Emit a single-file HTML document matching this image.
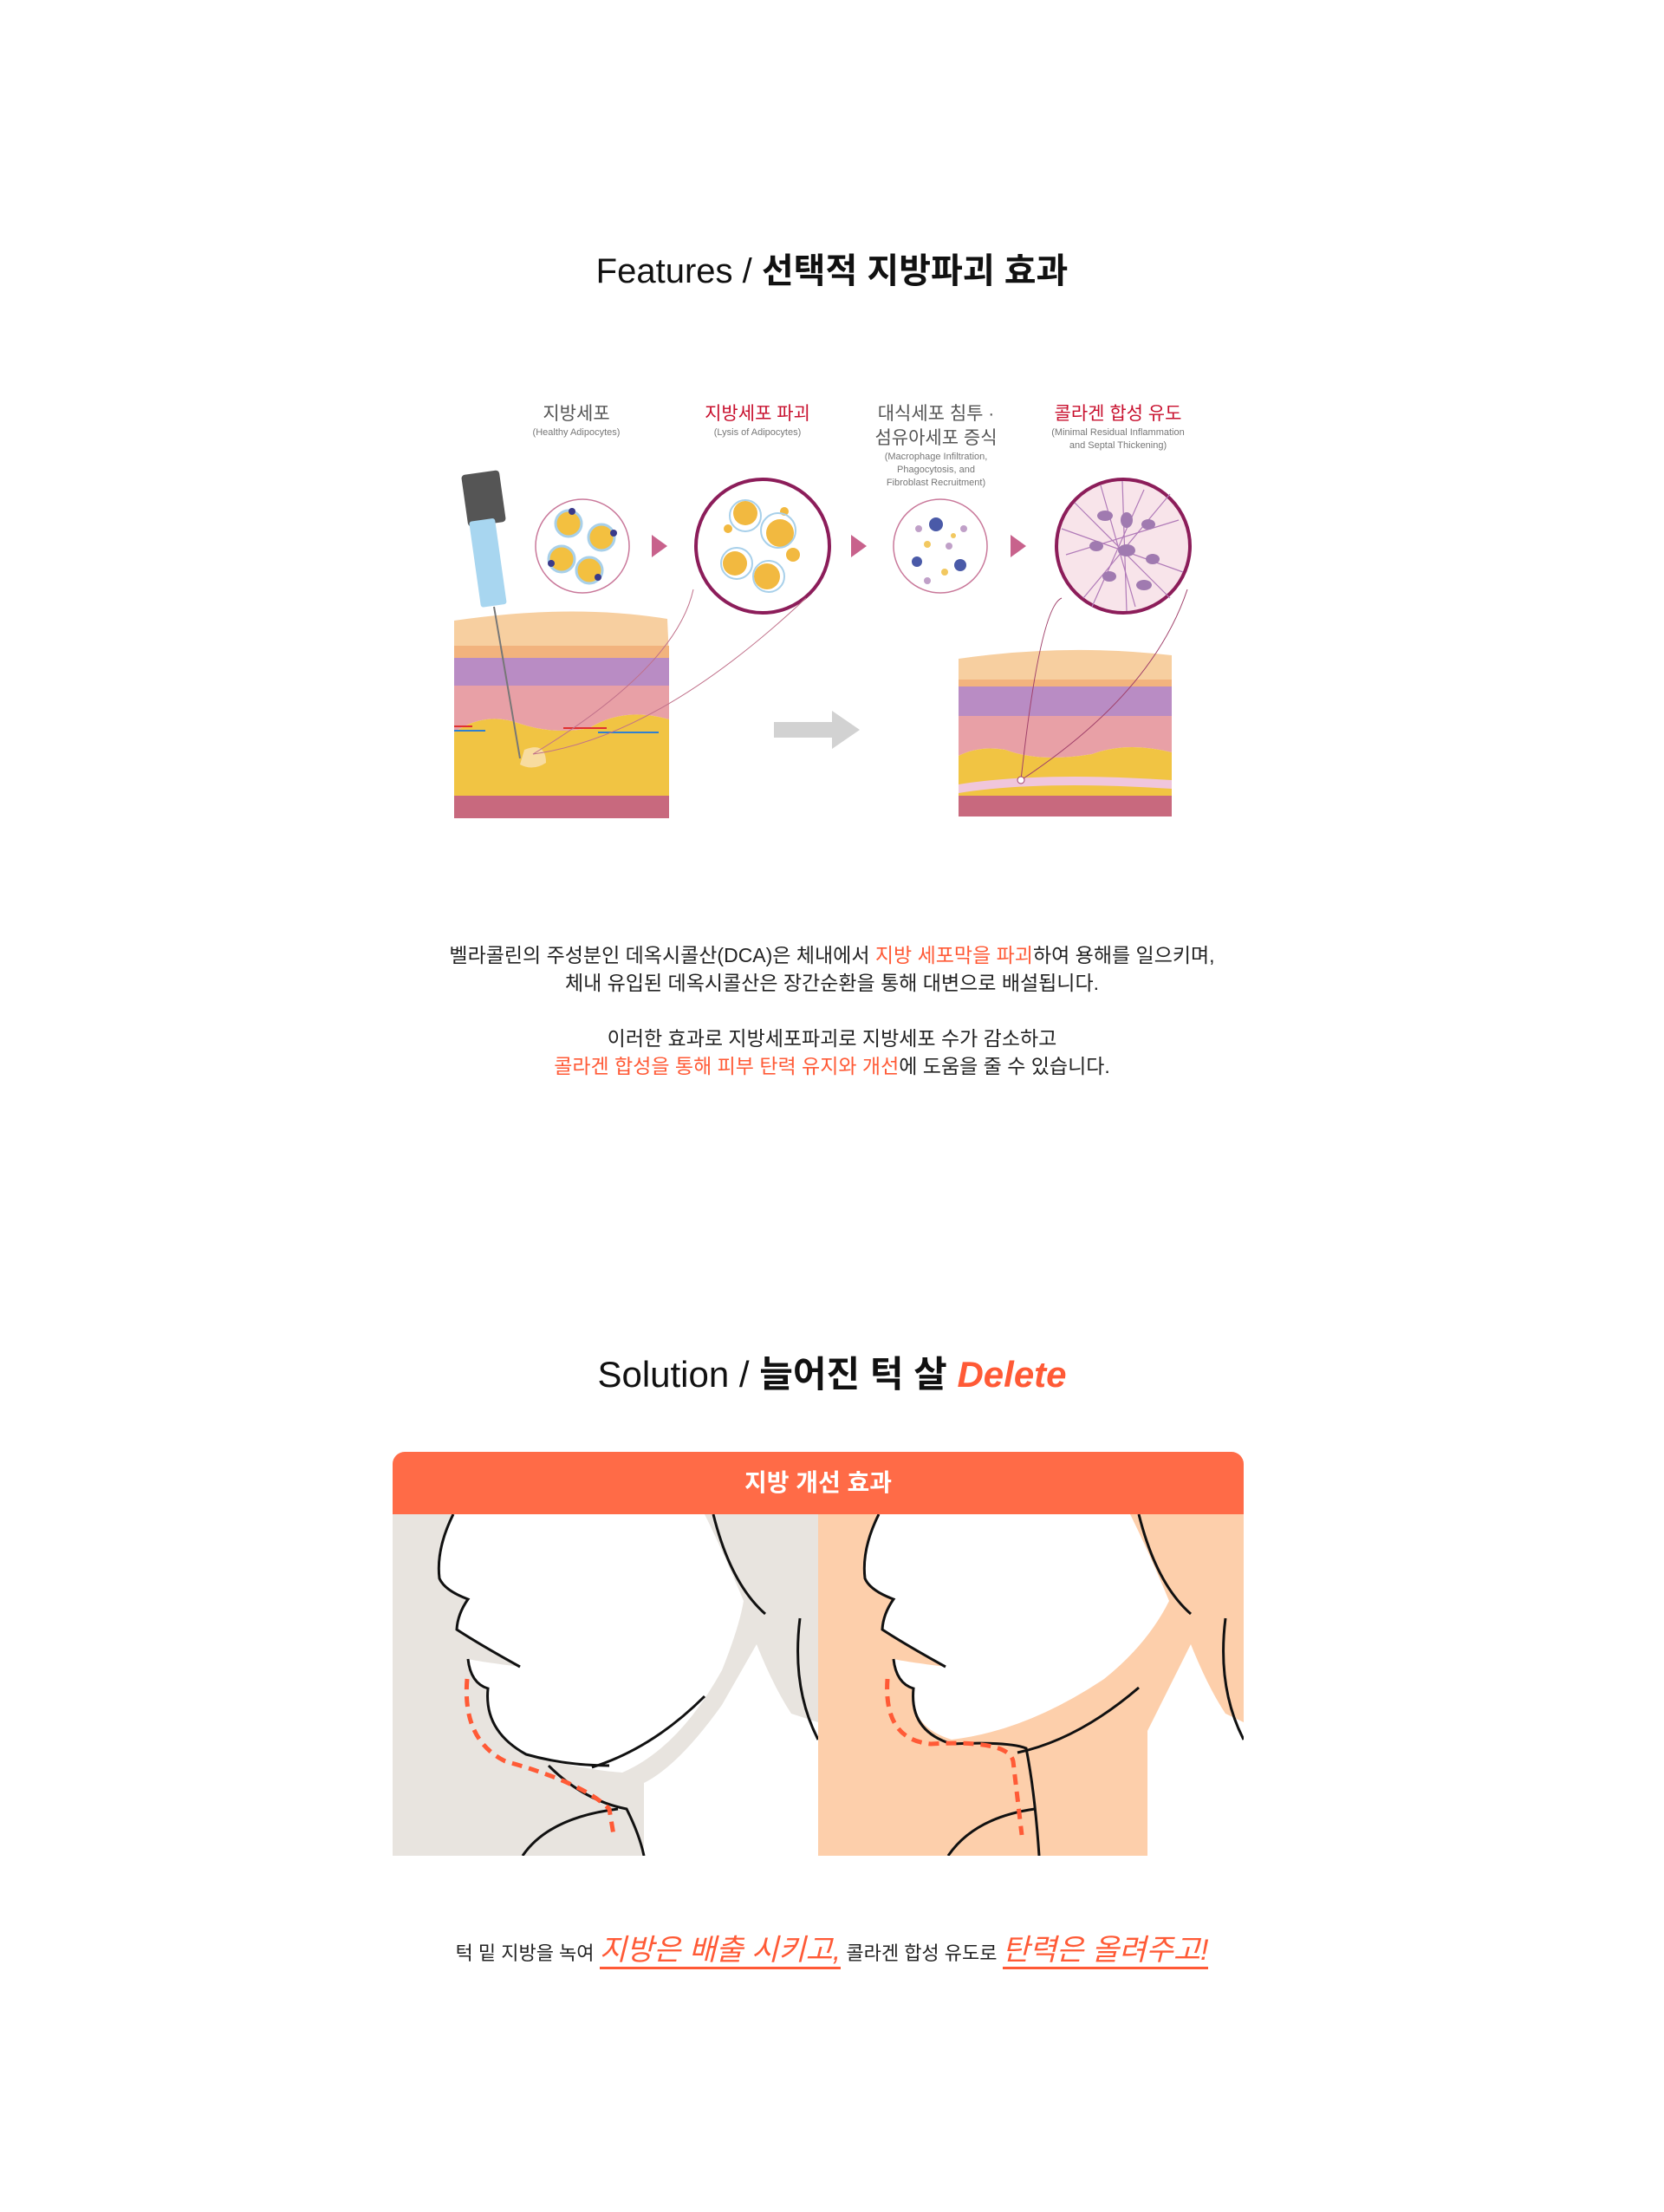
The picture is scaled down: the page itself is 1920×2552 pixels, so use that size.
<!DOCTYPE html>
<html><head><meta charset="utf-8">
<style>
body{margin:0;background:#fff;width:1920px;height:2552px;position:relative;overflow:hidden;font-family:"Liberation Sans","Noto Sans CJK KR",sans-serif;color:#222}
.abs{position:absolute}
.t{position:absolute;left:0;width:1920px;text-align:center}
.lbl{position:absolute;text-align:center;width:240px;font-size:21px;color:#555;line-height:28px}
.lbl small{display:block;font-size:11px;color:#777;line-height:15px}
.or{color:#ff5a36}
.hw{color:#ff5a36;font-size:34px;font-style:italic;border-bottom:3px solid #ff5a36}
</style></head><body>

<div class="t" style="top:280px;font-size:40px;color:#111"><span style="font-weight:300">Features / </span><b>선택적 지방파괴 효과</b></div>

<div class="lbl" style="left:545px;top:464px">지방세포<small>(Healthy Adipocytes)</small></div>
<div class="lbl" style="left:754px;top:464px;color:#c8102e">지방세포 파괴<small>(Lysis of Adipocytes)</small></div>
<div class="lbl" style="left:960px;top:464px">대식세포 침투 ·<br>섬유아세포 증식<small>(Macrophage Infiltration,<br>Phagocytosis, and<br>Fibroblast Recruitment)</small></div>
<div class="lbl" style="left:1170px;top:464px;color:#c8102e">콜라겐 합성 유도<small>(Minimal Residual Inflammation<br>and Septal Thickening)</small></div>

<svg class="abs" style="left:0;top:0" width="1920" height="1000">
<circle cx="672" cy="630" r="54" fill="#fff" stroke="#c9789a" stroke-width="1.5"/>
<g fill="#f3c040" stroke="#a8d0ea" stroke-width="3">
<circle cx="656" cy="604" r="15"/><circle cx="694" cy="620" r="15"/><circle cx="648" cy="645" r="15"/><circle cx="680" cy="658" r="15"/></g>
<g fill="#3a3a8a"><circle cx="660" cy="590" r="4"/><circle cx="708" cy="615" r="4"/><circle cx="636" cy="650" r="4"/><circle cx="690" cy="666" r="4"/></g>
<circle cx="880" cy="630" r="77" fill="#fff" stroke="#8c1d5a" stroke-width="4"/>
<g fill="#f2b940"><circle cx="860" cy="592" r="14"/><circle cx="900" cy="615" r="16"/><circle cx="848" cy="650" r="14"/><circle cx="885" cy="665" r="15"/><circle cx="915" cy="640" r="8"/><circle cx="840" cy="610" r="5"/><circle cx="905" cy="590" r="5"/></g>
<g fill="none" stroke="#a8d0ea" stroke-width="2"><circle cx="860" cy="595" r="18"/><circle cx="898" cy="612" r="20"/><circle cx="850" cy="650" r="18"/><circle cx="887" cy="665" r="18"/></g>
<circle cx="1085" cy="630" r="54" fill="#fff" stroke="#c9789a" stroke-width="1.5"/>
<g fill="#4a5aa8"><circle cx="1080" cy="605" r="8"/><circle cx="1058" cy="648" r="6"/><circle cx="1108" cy="652" r="7"/></g>
<g fill="#c0a0c8"><circle cx="1060" cy="610" r="4"/><circle cx="1112" cy="610" r="4"/><circle cx="1095" cy="630" r="4"/><circle cx="1070" cy="670" r="4"/></g>
<g fill="#f2c860"><circle cx="1070" cy="628" r="4"/><circle cx="1100" cy="618" r="3"/><circle cx="1090" cy="660" r="4"/></g>
<circle cx="1296" cy="630" r="77" fill="#f8e4ea" stroke="#8c1d5a" stroke-width="4"/>
<g stroke="#b07ab8" stroke-width="1.2">
<line x1="1240" y1="580" x2="1350" y2="690"/><line x1="1230" y1="640" x2="1360" y2="600"/><line x1="1270" y1="560" x2="1310" y2="700"/><line x1="1320" y1="565" x2="1260" y2="700"/><line x1="1225" y1="610" x2="1365" y2="660"/><line x1="1250" y1="690" x2="1350" y2="570"/><line x1="1295" y1="555" x2="1300" y2="705"/></g>
<g fill="#a07ab0"><ellipse cx="1275" cy="595" rx="9" ry="6"/><ellipse cx="1300" cy="600" rx="7" ry="9"/><ellipse cx="1325" cy="605" rx="8" ry="6"/><ellipse cx="1265" cy="630" rx="8" ry="6"/><ellipse cx="1300" cy="635" rx="10" ry="7"/><ellipse cx="1330" cy="645" rx="8" ry="6"/><ellipse cx="1280" cy="665" rx="8" ry="6"/><ellipse cx="1320" cy="675" rx="9" ry="6"/></g>
<g fill="#c8628c"><polygon points="752,617 770,630 752,643"/><polygon points="982,617 1000,630 982,643"/><polygon points="1166,617 1184,630 1166,643"/></g>
<polygon points="893,833 960,833 960,820 992,842 960,864 960,851 893,851" fill="#d2d2d2"/>
<path d="M524 716 Q660 696 770 714 L772 760 L524 760 Z" fill="#f7cfa0"/>
<rect x="524" y="745" width="248" height="14" fill="#f2b37e"/>
<rect x="524" y="759" width="248" height="32" fill="#b98cc4"/>
<path d="M524 791 L772 791 L772 830 Q720 815 680 840 Q640 848 600 835 Q560 820 524 845 Z" fill="#e8a0a6"/>
<path d="M524 845 Q560 820 600 835 Q640 848 680 840 Q720 815 772 830 L772 918 L524 918 Z" fill="#f1c443"/>
<rect x="524" y="918" width="248" height="26" fill="#c8697e"/>
<path d="M605 865 Q630 855 630 880 Q615 890 600 882 Z" fill="#f8dca0"/>
<g stroke="#e03030" stroke-width="2"><line x1="524" y1="838" x2="545" y2="838"/><line x1="650" y1="840" x2="700" y2="840"/></g>
<g stroke="#3080d0" stroke-width="2"><line x1="524" y1="843" x2="560" y2="843"/><line x1="690" y1="845" x2="760" y2="845"/></g>
<rect x="536" y="545" width="44" height="60" rx="4" fill="#555" transform="rotate(-8 558 575)"/>
<rect x="548" y="600" width="30" height="100" rx="3" fill="#a8d6f0" transform="rotate(-8 558 650)"/>
<line x1="570" y1="700" x2="600" y2="875" stroke="#777" stroke-width="2"/>
<path d="M615 870 Q760 850 930 690" fill="none" stroke="#c0708a" stroke-width="1"/>
<path d="M615 870 Q780 770 800 680" fill="none" stroke="#c0708a" stroke-width="1"/>
<path d="M1106 760 Q1230 742 1352 756 L1352 790 L1106 790 Z" fill="#f7cfa0"/>
<rect x="1106" y="784" width="246" height="8" fill="#f2b37e"/>
<rect x="1106" y="792" width="246" height="34" fill="#b98cc4"/>
<path d="M1106 826 L1352 826 L1352 868 Q1300 855 1260 870 Q1200 880 1160 865 Q1130 860 1106 872 Z" fill="#e8a0a6"/>
<path d="M1106 872 Q1130 860 1160 865 Q1200 880 1260 870 Q1300 855 1352 868 L1352 918 L1106 918 Z" fill="#f1c443"/>
<path d="M1106 905 Q1200 890 1352 900 L1352 910 Q1200 900 1106 915 Z" fill="#f0c6dc"/>
<rect x="1106" y="918" width="246" height="24" fill="#c8697e"/>
<path d="M1178 900 Q1200 700 1225 690" fill="none" stroke="#a0406a" stroke-width="1"/>
<path d="M1178 900 Q1330 800 1370 680" fill="none" stroke="#a0406a" stroke-width="1"/>
<circle cx="1178" cy="900" r="4" fill="#fff" stroke="#a0406a"/>
</svg>

<div class="t" style="top:1086px;font-size:23px;line-height:32px;color:#222">
벨라콜린의 주성분인 데옥시콜산(DCA)은 체내에서 <span class="or">지방 세포막을 파괴</span>하여 용해를 일으키며,<br>
체내 유입된 데옥시콜산은 장간순환을 통해 대변으로 배설됩니다.<br><br>
이러한 효과로 지방세포파괴로 지방세포 수가 감소하고<br>
<span class="or">콜라겐 합성을 통해 피부 탄력 유지와 개선</span>에 도움을 줄 수 있습니다.
</div>

<div class="t" style="top:1552px;font-size:42px;color:#111"><span style="font-weight:300">Solution / </span><b>늘어진 턱 살 </b><b><i style="color:#ff5a36">Delete</i></b></div>

<div class="abs" style="left:453px;top:1675px;width:982px;height:72px;background:#ff6b47;border-radius:14px 14px 0 0;color:#fff;font-size:28px;font-weight:bold;text-align:center;line-height:72px">지방 개선 효과</div>

<svg class="abs" style="left:453px;top:1747px" width="982" height="394">
<defs><clipPath id="c"><rect width="491" height="394"/></clipPath></defs>
<g clip-path="url(#c)">
<rect width="491" height="394" fill="#e8e4df"/>
<path d="M70 0 Q50 40 54 74 Q60 88 87 98 Q75 115 74 133 Q100 150 147 176 Q100 170 87 167 Q90 195 110 201 Q105 250 154 277 Q220 295 265 298 Q330 270 380 180 Q400 130 405 100 Q380 40 360 0 Z" fill="#fff"/>
<path d="M290 394 L290 310 Q330 290 380 220 L420 150 Q440 200 460 230 L491 240 L491 394 Z" fill="#fff"/>
<g fill="none" stroke="#111" stroke-width="3">
<path d="M70 0 Q50 40 54 74 Q60 88 87 98 Q75 115 74 133 Q100 150 147 176"/>
<path d="M87 167 Q90 195 110 201 Q105 250 154 277 Q200 290 250 290"/>
<path d="M360 210 Q300 270 230 292"/>
<path d="M370 0 Q390 80 430 115"/>
<path d="M180 290 Q220 330 270 340 Q285 370 290 394"/>
<path d="M150 394 Q180 350 260 340"/>
<path d="M470 120 Q460 200 491 260"/>
</g>
<path d="M86 190 Q80 260 130 285 Q220 310 250 340 L255 370" fill="none" stroke="#ff5a36" stroke-width="5" stroke-dasharray="12 8"/>
</g>
<g transform="translate(491 0)">
<g clip-path="url(#c)">
<rect width="491" height="394" fill="#fdcfab"/>
<path d="M70 0 Q50 40 54 74 Q60 88 87 98 Q75 115 74 133 Q100 150 147 176 Q100 170 87 167 Q90 195 110 201 Q105 245 154 260 Q240 250 330 190 Q380 150 405 100 Q380 40 360 0 Z" fill="#fff"/>
<path d="M380 394 L380 250 Q400 210 430 150 Q450 200 470 230 L491 240 L491 394 Z" fill="#fff"/>
<g fill="none" stroke="#111" stroke-width="3">
<path d="M70 0 Q50 40 54 74 Q60 88 87 98 Q75 115 74 133 Q100 150 147 176"/>
<path d="M87 167 Q90 195 110 201 Q105 250 154 265 Q220 262 240 270 Q250 320 255 394"/>
<path d="M370 200 Q300 260 230 275"/>
<path d="M370 0 Q390 80 430 115"/>
<path d="M150 394 Q180 350 250 340"/>
<path d="M470 120 Q460 200 491 260"/>
</g>
<path d="M80 190 Q75 260 130 265 Q220 260 225 285 L235 370" fill="none" stroke="#ff5a36" stroke-width="5" stroke-dasharray="12 8"/>
</g></g>
</svg>

<div class="t" style="top:2222px;font-size:22px;line-height:56px;white-space:nowrap">
턱 밑 지방을 녹여 <span class="hw">지방은 배출 시키고,</span> 콜라겐 합성 유도로 <span class="hw">탄력은 올려주고!</span>
</div>
</body></html>
